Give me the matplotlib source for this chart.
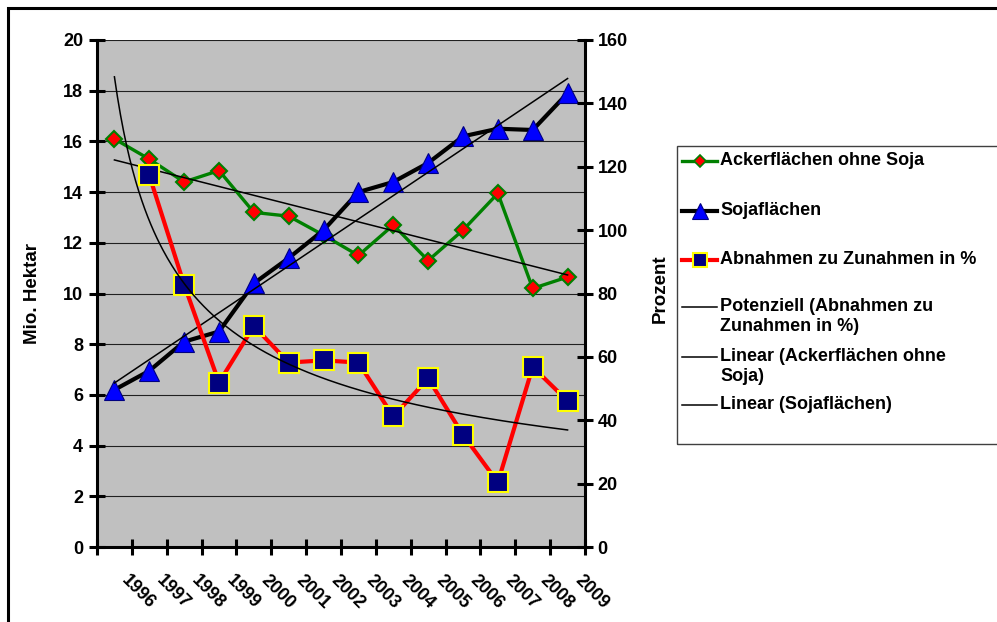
import numpy as np
import matplotlib
matplotlib.use("Agg")
import matplotlib.pyplot as plt
import matplotlib.transforms as mtransforms
from matplotlib.lines import Line2D
from matplotlib.patches import Rectangle

plt.rcParams['font.family'] = ['Liberation Sans', 'DejaVu Sans']
plt.rcParams['font.weight'] = 'bold'

# values per year
years = ["1996", "1997", "1998", "1999", "2000", "2001", "2002",
         "2003", "2004", "2005", "2006", "2007", "2008", "2009"]
acker_ohne_soja = [16.1, 15.3, 14.4, 14.85, 13.2, 13.05, 12.3,
                   11.5, 12.7, 11.3, 12.5, 13.95, 10.2, 10.65]
soja = [6.2, 6.95, 8.1, 8.5, 10.4, 11.4, 12.5,
        14.0, 14.4, 15.15, 16.2, 16.5, 16.45, 17.9]
# Abnahmen zu Zunahmen in % (no value for 1996)
abnahmen_pct = [np.nan, 117.3, 82.8, 51.9, 69.7, 58.2, 58.9,
                58.2, 41.2, 53.2, 35.4, 20.4, 56.8, 46.1]

labels = ["Ackerflächen ohne Soja", "Sojaflächen", "Abnahmen zu Zunahmen in %",
          "Potenziell (Abnahmen zu\nZunahmen in %)",
          "Linear (Ackerflächen ohne\nSoja)", "Linear (Sojaflächen)"]

W, H = 997, 622
fig = plt.figure(figsize=(W / 100, H / 100), dpi=100)


def fx(px):
    return px / W


def fy(py):
    return 1 - py / H


x = np.arange(len(years))
xn = x + 1  # excel-style index 1..n for the trendlines

ax = fig.add_axes([fx(97), fy(547), fx(585) - fx(97), fy(40) - fy(547)])
ax2 = ax.twinx()
ax.set_facecolor("#C0C0C0")
ax2.patch.set_visible(False)

# trendlines: linear for both areas, power for the percentage
k1, d1 = np.polyfit(xn, acker_ohne_soja, 1)
k2, d2 = np.polyfit(xn, soja, 1)
pct = np.array(abnahmen_pct)
ok = ~np.isnan(pct)
b, lna = np.polyfit(np.log(xn[ok]), np.log(pct[ok]), 1)
xs = np.linspace(1, len(years), 300)

ax.plot(x, acker_ohne_soja, color="#008000", lw=2.4, marker="D", ms=8.5,
        mfc="#FF0000", mec="#008000", mew=1.5, zorder=3)
ax.plot(x, soja, color="black", lw=3, marker="^", ms=14,
        mfc="#0000FF", mec="#000080", mew=0.8, zorder=3)
ax.plot(x, k1 * xn + d1, color="black", lw=1.1, zorder=4)
ax.plot(x, k2 * xn + d2, color="black", lw=1.1, zorder=4)

ax2.plot(x, abnahmen_pct, color="#FF0000", lw=3, marker="s", ms=15,
         mfc="#000080", mec="#FFFF00", mew=1.5, zorder=3)
ax2.plot(xs - 1, np.exp(lna) * xs ** b, color="black", lw=1.1, zorder=4)

ax.set_xlim(-0.5, len(years) - 0.5)
ax.set_ylim(0, 20)
ax2.set_ylim(0, 160)
ax.set_yticks(np.arange(0, 21, 2))
ax2.set_yticks(np.arange(0, 161, 20))

# ticks between categories, rotated year labels below each category
ax.set_xticks(np.arange(-0.5, len(years), 1))
ax.set_xticklabels([])
lbl_trans = (mtransforms.blended_transform_factory(ax.transData, ax.transAxes)
             + mtransforms.ScaledTranslation(0.10, -0.31, fig.dpi_scale_trans))
for i, yr in zip(x, years):
    ax.text(i, 0, yr, transform=lbl_trans, rotation=-45, rotation_mode="anchor",
            ha="left", va="center", fontsize=13, fontweight="bold")

ax.tick_params(axis="x", direction="inout", length=12, width=2.2)
ax.tick_params(axis="y", direction="inout", length=12, width=2.2, labelsize=13, pad=4)
ax2.tick_params(axis="y", direction="inout", length=12, width=2.2, labelsize=13, pad=3)

ax.yaxis.grid(True, color="#202020", lw=0.8)
ax.set_axisbelow(True)

for a in (ax, ax2):
    a.spines["top"].set_visible(False)
    for s in ("left", "right", "bottom"):
        a.spines[s].set_linewidth(2.2)
ax.spines["right"].set_visible(False)
ax2.spines["left"].set_visible(False)
ax2.spines["bottom"].set_visible(False)

ax.set_ylabel("Mio. Hektar", fontsize=13.5, fontweight="bold")
ax.yaxis.set_label_coords(-0.115, 0.5)
ax2.set_ylabel("Prozent", fontsize=13.5, fontweight="bold")
ax2.yaxis.set_label_coords(1.137, 0.51)

# chart frame and legend box
fig.patches.append(Rectangle((fx(8), -0.1), 2, fy(8) + 0.1, transform=fig.transFigure,
                             fill=False, ec="black", lw=2.2, zorder=0))
fig.patches.append(Rectangle((fx(677), fy(444)), 1, fy(146) - fy(444), transform=fig.transFigure,
                             fill=False, ec="#404040", lw=1.0, zorder=0))

# legend entries
line_styles = [
    dict(color="#008000", lw=2.4),
    dict(color="black", lw=3),
    dict(color="#FF0000", lw=3),
    dict(color="black", lw=1.1),
    dict(color="black", lw=1.1),
    dict(color="black", lw=1.1),
]
marker_styles = [
    dict(marker="D", ms=6, mfc="#FF0000", mec="#008000", mew=1.2),
    dict(marker="^", ms=11, mfc="#0000FF", mec="#000080", mew=0.8),
    dict(marker="s", ms=10, mfc="#000080", mec="#FFFF00", mew=1.5),
    None, None, None,
]
rows = [161, 211, 260, 307, 357, 405]
for lab, ls, ms, ry in zip(labels, line_styles, marker_styles, rows):
    fig.add_artist(Line2D([fx(682), fx(717)], [fy(ry), fy(ry)],
                          transform=fig.transFigure, **ls))
    if ms:
        fig.add_artist(Line2D([fx(699.5)], [fy(ry)], transform=fig.transFigure,
                              ls="none", **ms))
    fig.text(fx(720), fy(ry - 9), lab, fontsize=13, fontweight="bold",
             ha="left", va="top", linespacing=1.22)

fig.savefig("out.png", dpi=100)
